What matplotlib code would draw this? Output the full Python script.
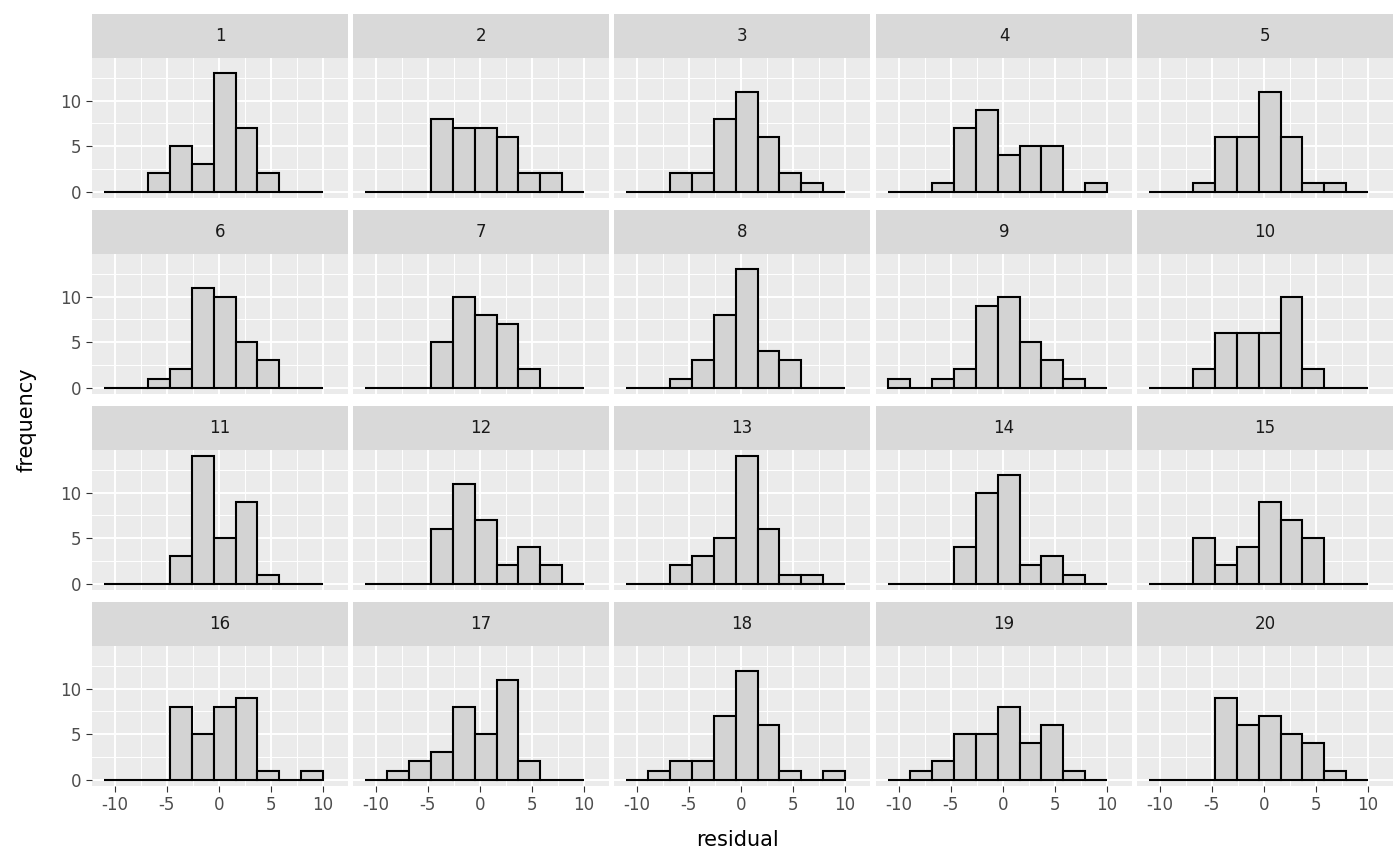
import numpy as np
import matplotlib.pyplot as plt

plt.rcParams['axes.unicode_minus'] = False

# bin edges of the histogram (10 bins)
edges = np.linspace(-11.0, 10.0, 11)

counts_1 = [0, 0, 2, 5, 3, 13, 7, 2, 0, 0]
counts_2 = [0, 0, 0, 8, 7, 7, 6, 2, 2, 0]
counts_3 = [0, 0, 2, 2, 8, 11, 6, 2, 1, 0]
counts_4 = [0, 0, 1, 7, 9, 4, 5, 5, 0, 1]
counts_5 = [0, 0, 1, 6, 6, 11, 6, 1, 1, 0]
counts_6 = [0, 0, 1, 2, 11, 10, 5, 3, 0, 0]
counts_7 = [0, 0, 0, 5, 10, 8, 7, 2, 0, 0]
counts_8 = [0, 0, 1, 3, 8, 13, 4, 3, 0, 0]
counts_9 = [1, 0, 1, 2, 9, 10, 5, 3, 1, 0]
counts_10 = [0, 0, 2, 6, 6, 6, 10, 2, 0, 0]
counts_11 = [0, 0, 0, 3, 14, 5, 9, 1, 0, 0]
counts_12 = [0, 0, 0, 6, 11, 7, 2, 4, 2, 0]
counts_13 = [0, 0, 2, 3, 5, 14, 6, 1, 1, 0]
counts_14 = [0, 0, 0, 4, 10, 12, 2, 3, 1, 0]
counts_15 = [0, 0, 5, 2, 4, 9, 7, 5, 0, 0]
counts_16 = [0, 0, 0, 8, 5, 8, 9, 1, 0, 1]
counts_17 = [0, 1, 2, 3, 8, 5, 11, 2, 0, 0]
counts_18 = [0, 1, 2, 2, 7, 12, 6, 1, 0, 1]
counts_19 = [0, 1, 2, 5, 5, 8, 4, 6, 1, 0]
counts_20 = [0, 0, 0, 9, 6, 7, 5, 4, 1, 0]
all_counts = [counts_1, counts_2, counts_3, counts_4, counts_5, counts_6, counts_7,
              counts_8, counts_9, counts_10, counts_11, counts_12, counts_13, counts_14,
              counts_15, counts_16, counts_17, counts_18, counts_19, counts_20]

W, H = 1400, 866
fig = plt.figure(figsize=(14, 8.66), dpi=100)
fig.patch.set_facecolor('white')

lefts = [92, 353, 614, 876, 1137]
pw = 256
strip_h = 44
panel_h = 140
row_tops = [14, 210, 406, 602]

for i, counts in enumerate(all_counts):
    r, c = divmod(i, 5)
    x0 = lefts[c]
    top = row_tops[r]
    sax = fig.add_axes([x0 / W, 1 - (top + strip_h) / H, pw / W, strip_h / H])
    sax.set_facecolor('#D9D9D9')
    sax.set_xticks([]); sax.set_yticks([])
    for s in sax.spines.values():
        s.set_visible(False)
    sax.text(0.5, 0.5, str(i + 1), ha='center', va='center', fontsize=12, color='#1A1A1A')

    ax = fig.add_axes([x0 / W, 1 - (top + strip_h + panel_h) / H, pw / W, panel_h / H])
    ax.set_facecolor('#EBEBEB')
    ax.bar(edges[:-1], counts, width=np.diff(edges), align='edge',
           color='lightgray', edgecolor='black', linewidth=1.5, zorder=3)
    ax.set_xlim(-12.2, 12.4)
    ax.set_ylim(-0.7, 14.7)
    ax.set_xticks([-10, -5, 0, 5, 10])
    ax.set_xticks([-7.5, -2.5, 2.5, 7.5], minor=True)
    ax.set_yticks([0, 5, 10])
    ax.set_yticks([2.5, 7.5, 12.5], minor=True)
    ax.grid(True, which='major', color='white', linewidth=1.4, zorder=0)
    ax.grid(True, which='minor', color='white', linewidth=0.7, zorder=0)
    for s in ax.spines.values():
        s.set_visible(False)
    ax.tick_params(which='minor', length=0)
    ax.tick_params(which='major', color='#333333', length=4, labelsize=12, labelcolor='#4D4D4D')
    if c != 0:
        ax.tick_params(axis='y', labelleft=False, length=0)
    if r != 3:
        ax.tick_params(axis='x', labelbottom=False, length=0)

fig.text(737 / W, 0.018, 'residual', ha='center', va='bottom', fontsize=15)
fig.text(0.012, 1 - 420 / H, 'frequency', rotation=90, ha='left', va='center', fontsize=15)

fig.savefig('out.png', dpi=100)
